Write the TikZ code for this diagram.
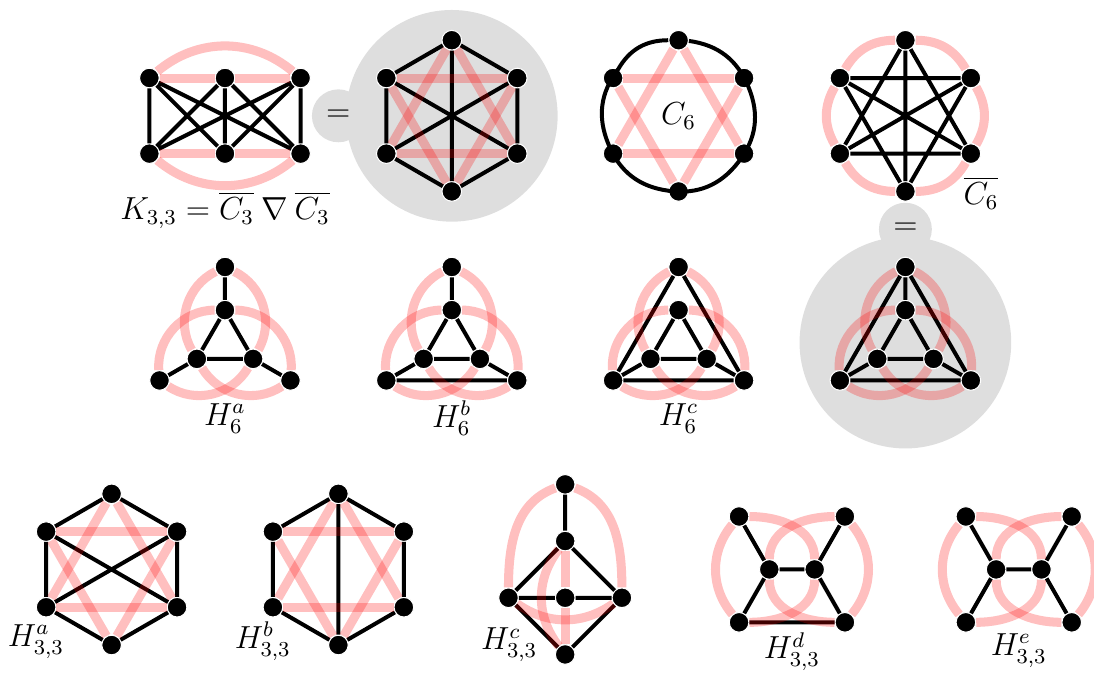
\documentclass[tikz,border=0pt]{standalone}
\usepackage{amsmath, amssymb}
\usepackage{tikz}

\definecolor{bubble}{gray}{0.87}

\begin{document}
\begin{tikzpicture}[
    vertex/.style={circle, fill=black, draw=white, line width=0.4pt, inner sep=0pt, minimum size=2.6mm},
    bedge/.style={line width=1.5pt},
    redge/.style={red, opacity=0.25, line width=3.4pt},
    bub/.style={circle, fill=bubble, inner sep=0pt},
    lbl/.style={font=\large}
  ]
  \useasboundingbox (0.024,0.032) rectangle (14.495,-8.87);

  % Grey bubbles
  \node[bub, minimum size=2.8cm] (big1) at (6,-1.5) {};
  \node[bub, minimum size=0.7cm, lbl] (eq1) at (4.5,-1.5) {$=$};
  \node[bub, minimum size=2.8cm] (big2) at (12,-4.5) {};
  \node[bub, minimum size=0.7cm, lbl] (eq2) at (12,-3) {$=$};

  % K_{3,3}
  \node[vertex] (ka1) at (2,-1) {};
  \node[vertex] (ka2) at (3,-1) {};
  \node[vertex] (ka3) at (4,-1) {};
  \node[vertex] (kb1) at (2,-2) {};
  \node[vertex] (kb2) at (3,-2) {};
  \node[vertex] (kb3) at (4,-2) {};
  \draw[bedge] (ka1) -- (kb1) (ka1) -- (kb2) (ka1) -- (kb3)
               (ka2) -- (kb1) (ka2) -- (kb2) (ka2) -- (kb3)
               (ka3) -- (kb1) (ka3) -- (kb2) (ka3) -- (kb3);
  \draw[redge] (ka1) -- (ka2); \draw[redge] (ka2) -- (ka3);
  \draw[redge] (ka1) to[bend left=40] (ka3);
  \draw[redge] (kb1) -- (kb2); \draw[redge] (kb2) -- (kb3);
  \draw[redge] (kb1) to[bend right=40] (kb3);
  \node[lbl] (k33) at (3,-2.75) {$K_{3,3}=\overline{C_3}\mathbin{\nabla}\overline{C_3}$};

  % K_{3,3} as a hexagon
  \node[vertex] (g1) at (6,-0.5) {};
  \node[vertex] (g2) at (5.134,-1) {};
  \node[vertex] (g3) at (5.134,-2) {};
  \node[vertex] (g4) at (6,-2.5) {};
  \node[vertex] (g5) at (6.866,-2) {};
  \node[vertex] (g6) at (6.866,-1) {};
  \draw[bedge] (g1) -- (g2) -- (g3) -- (g4) -- (g5) -- (g6) -- (g1)
               (g1) -- (g4) (g2) -- (g5) (g3) -- (g6);
  \draw[redge] (g1) -- (g3); \draw[redge] (g3) -- (g5); \draw[redge] (g5) -- (g1);
  \draw[redge] (g2) -- (g4); \draw[redge] (g4) -- (g6); \draw[redge] (g6) -- (g2);

  % C_6
  \node[vertex] (c1) at (9,-0.5) {};
  \node[vertex] (c2) at (8.134,-1) {};
  \node[vertex] (c3) at (8.134,-2) {};
  \node[vertex] (c4) at (9,-2.5) {};
  \node[vertex] (c5) at (9.866,-2) {};
  \node[vertex] (c6) at (9.866,-1) {};
  \draw[bedge] (c1) to[bend right=30] (c2) to[bend right=30] (c3) to[bend right=30] (c4)
               to[bend right=30] (c5) to[bend right=30] (c6) to[bend right=30] (c1);
  \draw[redge] (c1) -- (c3); \draw[redge] (c3) -- (c5); \draw[redge] (c5) -- (c1);
  \draw[redge] (c2) -- (c4); \draw[redge] (c4) -- (c6); \draw[redge] (c6) -- (c2);
  \node[lbl] (c6lbl) at (9,-1.5) {$C_6$};

  % complement of C_6
  \node[vertex] (cc1) at (12,-0.5) {};
  \node[vertex] (cc2) at (11.134,-1) {};
  \node[vertex] (cc3) at (11.134,-2) {};
  \node[vertex] (cc4) at (12,-2.5) {};
  \node[vertex] (cc5) at (12.866,-2) {};
  \node[vertex] (cc6) at (12.866,-1) {};
  \draw[bedge] (cc1) -- (cc3) (cc1) -- (cc4) (cc1) -- (cc5)
               (cc2) -- (cc4) (cc2) -- (cc5) (cc2) -- (cc6)
               (cc3) -- (cc5) (cc3) -- (cc6) (cc4) -- (cc6);
  \draw[redge] (cc1) to[bend right=30] (cc2); \draw[redge] (cc2) to[bend right=30] (cc3);
  \draw[redge] (cc3) to[bend right=30] (cc4); \draw[redge] (cc4) to[bend right=30] (cc5);
  \draw[redge] (cc5) to[bend right=30] (cc6); \draw[redge] (cc6) to[bend right=30] (cc1);
  \node[lbl] (cc6lbl) at (13,-2.52) {$\overline{C_6}$};

  % H_6^a
  \node[vertex] (ha1) at (3,-3.5) {};
  \node[vertex] (ha2) at (2.134,-5) {};
  \node[vertex] (ha3) at (3.866,-5) {};
  \node[vertex] (ha4) at (3,-4.07) {};
  \node[vertex] (ha5) at (2.628,-4.715) {};
  \node[vertex] (ha6) at (3.372,-4.715) {};
  \draw[bedge] (ha4) -- (ha5) -- (ha6) -- (ha4)
               (ha1) -- (ha4) (ha2) -- (ha5) (ha3) -- (ha6);
  \draw[redge] (ha2) to[out=94,in=180] (ha4) to[out=0,in=86] (ha3);
  \draw[redge] (ha3) to[out=214,in=300] (ha5) to[out=120,in=206] (ha1);
  \draw[redge] (ha1) to[out=334,in=60] (ha6) to[out=240,in=326] (ha2);
  \node[lbl] (halbl) at (3,-5.5) {$H_6^a$};

  % H_6^b
  \node[vertex] (hb1) at (6,-3.5) {};
  \node[vertex] (hb2) at (5.134,-5) {};
  \node[vertex] (hb3) at (6.866,-5) {};
  \node[vertex] (hb4) at (6,-4.07) {};
  \node[vertex] (hb5) at (5.628,-4.715) {};
  \node[vertex] (hb6) at (6.372,-4.715) {};
  \draw[bedge] (hb4) -- (hb5) -- (hb6) -- (hb4)
               (hb1) -- (hb4) (hb2) -- (hb5) (hb3) -- (hb6) (hb2) -- (hb3);
  \draw[redge] (hb2) to[out=94,in=180] (hb4) to[out=0,in=86] (hb3);
  \draw[redge] (hb3) to[out=214,in=300] (hb5) to[out=120,in=206] (hb1);
  \draw[redge] (hb1) to[out=334,in=60] (hb6) to[out=240,in=326] (hb2);
  \node[lbl] (hblbl) at (6,-5.5) {$H_6^b$};

  % H_6^c
  \node[vertex] (hc1) at (9,-3.5) {};
  \node[vertex] (hc2) at (8.134,-5) {};
  \node[vertex] (hc3) at (9.866,-5) {};
  \node[vertex] (hc4) at (9,-4.07) {};
  \node[vertex] (hc5) at (8.628,-4.715) {};
  \node[vertex] (hc6) at (9.372,-4.715) {};
  \draw[bedge] (hc4) -- (hc5) -- (hc6) -- (hc4)
               (hc1) -- (hc2) -- (hc3) -- (hc1) (hc2) -- (hc5) (hc3) -- (hc6);
  \draw[redge] (hc2) to[out=94,in=180] (hc4) to[out=0,in=86] (hc3);
  \draw[redge] (hc3) to[out=214,in=300] (hc5) to[out=120,in=206] (hc1);
  \draw[redge] (hc1) to[out=334,in=60] (hc6) to[out=240,in=326] (hc2);
  \node[lbl] (hclbl) at (9,-5.5) {$H_6^c$};

  % complement of C_6 as a prism
  \node[vertex] (hd1) at (12,-3.5) {};
  \node[vertex] (hd2) at (11.134,-5) {};
  \node[vertex] (hd3) at (12.866,-5) {};
  \node[vertex] (hd4) at (12,-4.07) {};
  \node[vertex] (hd5) at (11.628,-4.715) {};
  \node[vertex] (hd6) at (12.372,-4.715) {};
  \draw[bedge] (hd4) -- (hd5) -- (hd6) -- (hd4)
               (hd1) -- (hd2) -- (hd3) -- (hd1)
               (hd1) -- (hd4) (hd2) -- (hd5) (hd3) -- (hd6);
  \draw[redge] (hd2) to[out=94,in=180] (hd4) to[out=0,in=86] (hd3);
  \draw[redge] (hd3) to[out=214,in=300] (hd5) to[out=120,in=206] (hd1);
  \draw[redge] (hd1) to[out=334,in=60] (hd6) to[out=240,in=326] (hd2);

  % H_{3,3}^a
  \node[vertex] (ua1) at (1.5,-6.5) {};
  \node[vertex] (ua2) at (0.634,-7) {};
  \node[vertex] (ua3) at (0.634,-8) {};
  \node[vertex] (ua4) at (1.5,-8.5) {};
  \node[vertex] (ua5) at (2.366,-8) {};
  \node[vertex] (ua6) at (2.366,-7) {};
  \draw[bedge] (ua1) -- (ua2) -- (ua3) -- (ua4) -- (ua5) -- (ua6) -- (ua1)
               (ua2) -- (ua5) (ua3) -- (ua6);
  \draw[redge] (ua1) -- (ua3); \draw[redge] (ua3) -- (ua5); \draw[redge] (ua5) -- (ua1);
  \draw[redge] (ua2) -- (ua4); \draw[redge] (ua4) -- (ua6); \draw[redge] (ua6) -- (ua2);
  \node[lbl] (ualbl) at (0.5,-8.45) {$H_{3,3}^a$};

  % H_{3,3}^b
  \node[vertex] (ub1) at (4.5,-6.5) {};
  \node[vertex] (ub2) at (3.634,-7) {};
  \node[vertex] (ub3) at (3.634,-8) {};
  \node[vertex] (ub4) at (4.5,-8.5) {};
  \node[vertex] (ub5) at (5.366,-8) {};
  \node[vertex] (ub6) at (5.366,-7) {};
  \draw[bedge] (ub1) -- (ub2) -- (ub3) -- (ub4) -- (ub5) -- (ub6) -- (ub1)
               (ub1) -- (ub4);
  \draw[redge] (ub1) -- (ub3); \draw[redge] (ub3) -- (ub5); \draw[redge] (ub5) -- (ub1);
  \draw[redge] (ub2) -- (ub4); \draw[redge] (ub4) -- (ub6); \draw[redge] (ub6) -- (ub2);
  \node[lbl] (ublbl) at (3.5,-8.45) {$H_{3,3}^b$};

  % H_{3,3}^c
  \node[vertex] (uc1) at (7.5,-6.375) {};
  \node[vertex] (uc2) at (7.5,-7.125) {};
  \node[vertex] (uc3) at (6.75,-7.875) {};
  \node[vertex] (uc4) at (7.5,-7.875) {};
  \node[vertex] (uc5) at (8.25,-7.875) {};
  \node[vertex] (uc6) at (7.5,-8.625) {};
  \draw[bedge] (uc1) -- (uc2) (uc2) -- (uc3) (uc2) -- (uc5)
               (uc3) -- (uc4) -- (uc5) (uc3) -- (uc6) -- (uc5);
  \draw[redge] (uc1) to[out=200,in=90] (uc3);
  \draw[redge] (uc1) to[out=-20,in=90] (uc5);
  \draw[redge] (uc3) to[bend right=35] (uc5);
  \draw[redge] (uc2) -- (uc4); \draw[redge] (uc4) -- (uc6);
  \draw[redge] (uc2) to[bend right=38] (uc6);
  \node[lbl] (uclbl) at (6.76,-8.5) {$H_{3,3}^c$};

  % H_{3,3}^d
  \node[vertex] (ud1) at (9.8,-6.8) {};
  \node[vertex] (ud2) at (11.2,-6.8) {};
  \node[vertex] (ud3) at (10.2,-7.5) {};
  \node[vertex] (ud4) at (10.8,-7.5) {};
  \node[vertex] (ud5) at (9.8,-8.2) {};
  \node[vertex] (ud6) at (11.2,-8.2) {};
  \draw[bedge] (ud1) -- (ud3) -- (ud5) (ud3) -- (ud4)
               (ud2) -- (ud4) -- (ud6) (ud5) -- (ud6);
  \draw[redge] (ud1) to[bend right=40] (ud5);
  \draw[redge] (ud2) to[bend left=40] (ud6);
  \draw[redge] (ud1) to[out=0,in=90] (ud4) to[out=270,in=0] (ud5);
  \draw[redge] (ud2) to[out=180,in=90] (ud3) to[out=270,in=180] (ud6);
  \node[lbl] (udlbl) at (10.5,-8.59) {$H_{3,3}^d$};

  % H_{3,3}^e
  \node[vertex] (ue1) at (12.8,-6.8) {};
  \node[vertex] (ue2) at (14.2,-6.8) {};
  \node[vertex] (ue3) at (13.2,-7.5) {};
  \node[vertex] (ue4) at (13.8,-7.5) {};
  \node[vertex] (ue5) at (12.8,-8.2) {};
  \node[vertex] (ue6) at (14.2,-8.2) {};
  \draw[bedge] (ue1) -- (ue3) -- (ue5) (ue3) -- (ue4)
               (ue2) -- (ue4) -- (ue6);
  \draw[redge] (ue1) to[bend right=40] (ue5);
  \draw[redge] (ue2) to[bend left=40] (ue6);
  \draw[redge] (ue1) to[out=0,in=90] (ue4) to[out=270,in=0] (ue5);
  \draw[redge] (ue2) to[out=180,in=90] (ue3) to[out=270,in=180] (ue6);
  \node[lbl] (uelbl) at (13.5,-8.57) {$H_{3,3}^e$};
\end{tikzpicture}
\end{document}
